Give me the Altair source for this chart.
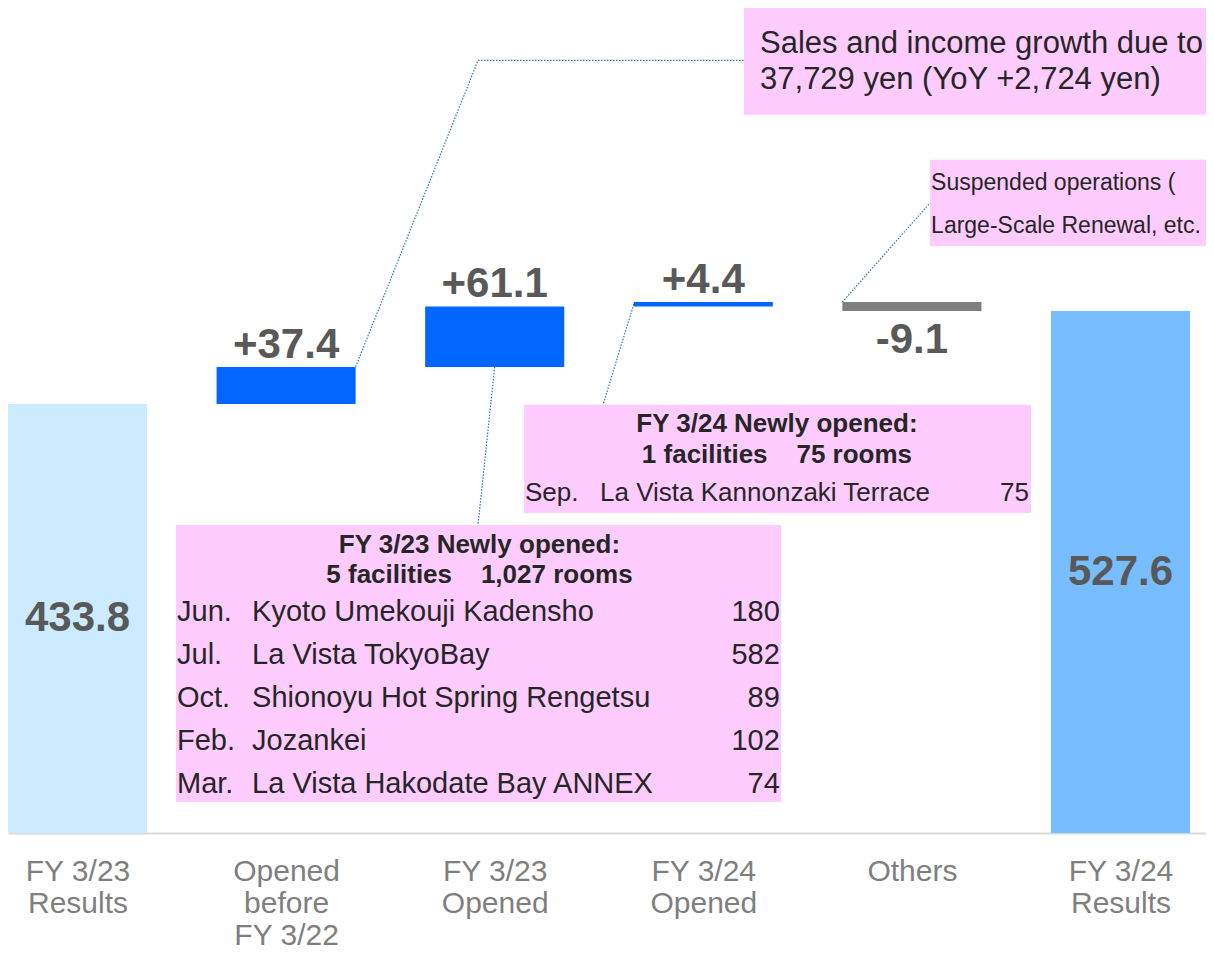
import json
import altair as alt
import pandas as pd

FONT = "Liberation Sans"

# ---------------- data ----------------
categories = ["FY 3/23|Results", "Opened|before|FY 3/22", "FY 3/23|Opened",
              "FY 3/24|Opened", "Others", "FY 3/24|Results"]
values = [433.8, 37.4, 61.1, 4.4, -9.1, 527.6]

box_a_lines = ["Sales and income growth due to", "37,729 yen (YoY +2,724 yen)"]
box_d_lines = ["Suspended operations (", "Large-Scale Renewal, etc."]

box_b_head = ["FY 3/23 Newly opened:", "5 facilities\u00a0\u00a0\u00a0\u00a01,027 rooms"]
box_b_months = ["Jun.", "Jul.", "Oct.", "Feb.", "Mar."]
box_b_names = ["Kyoto Umekouji Kadensho", "La Vista TokyoBay",
               "Shionoyu Hot Spring Rengetsu", "Jozankei", "La Vista Hakodate Bay ANNEX"]
box_b_rooms = [180, 582, 89, 102, 74]

box_c_head = ["FY 3/24 Newly opened:", "1 facilities\u00a0\u00a0\u00a0\u00a075 rooms"]
box_c_months = ["Sep."]
box_c_names = ["La Vista Kannonzaki Terrace"]
box_c_rooms = [75]

# ---------------- waterfall table ----------------
HALF = 1 / 3  # half bar width in category units
rows = []
running = 0.0
n = len(values)
for k, (cat, val) in enumerate(zip(categories, values)):
    if k == 0 or k == n - 1:
        start, end = 0.0, val
        kind = "prev" if k == 0 else "cur"
        label = f"{val:.1f}"
        pos = "mid"
        if k == 0:
            running = val
    else:
        start, end = running, running + val
        running = end
        kind = "up" if val > 0 else "down"
        label = f"{val:+.1f}"
        pos = "top" if val > 0 else "bottom"
    rows.append(dict(idx=k, lo=k - HALF, hi=k + HALF, start=start, end=end,
                     kind=kind, label=label, pos=pos,
                     mid=(start + end) / 2, top=max(start, end), bottom=min(start, end)))
bars = pd.DataFrame(rows)

# ---------------- scales / axes ----------------
xscale = alt.Scale(domain=[-0.3332, 5.4099], nice=False, zero=False)
yscale = alt.Scale(domain=[0, 834], nice=False, zero=False)
label_expr = "split(" + json.dumps(categories) + "[datum.value], '|')"
xaxis = alt.Axis(values=list(range(n)), labelExpr=label_expr, ticks=False, tickSize=0,
                 grid=False, domainColor="#D9D9D9", domainWidth=2,
                 labelFontSize=30, labelFont=FONT, labelColor="#7F7F7F",
                 labelLineHeight=32, labelPadding=23, labelOverlap=False,
                 labelFlush=False, title="")


def X(field):
    return alt.X(field, type="quantitative", scale=xscale, axis=xaxis, title="")


def Y(field):
    return alt.Y(field, type="quantitative", scale=yscale, axis=None, title="")


# ---------------- annotation boxes ----------------
boxes = pd.DataFrame([
    dict(x1=3.195, x2=5.9, y1=726.0, y2=842.0),   # A
    dict(x1=4.087, x2=5.9, y1=593.5, y2=680.5),   # D
    dict(x1=2.140, x2=4.571, y1=323.6, y2=432.8),  # C
    dict(x1=0.472, x2=3.373, y1=31.3, y2=311.4),   # B
])
box_layer = alt.Chart(boxes).mark_rect(color="#FFCCFF").encode(
    x=X("x1"), x2="x2", y=Y("y1"), y2="y2")

# ---------------- connectors ----------------
segs = pd.DataFrame([
    dict(x1=1 + HALF, y1=values[0] + values[1], x2=1.920, y2=781.0),
    dict(x1=1.920, y1=781.0, x2=3.195, y2=781.0),
    dict(x1=2.0, y1=values[0] + values[1], x2=1.920, y2=311.4),
    dict(x1=3 - HALF, y1=534.5, x2=2.519, y2=432.8),
    dict(x1=4 - HALF, y1=536.7, x2=4.087, y2=637.0),
])
seg_layer = alt.Chart(segs).mark_rule(color="#2E75B6", strokeWidth=1.2,
                                      strokeDash=[1.5, 1.5]).encode(
    x=X("x1"), x2="x2", y=Y("y1"), y2="y2")

# ---------------- bars ----------------
bar_layer = alt.Chart(bars).mark_bar().encode(
    x=X("lo"), x2="hi", y=Y("start"), y2="end",
    color=alt.Color("kind:N", legend=None,
                    scale=alt.Scale(domain=["prev", "up", "down", "cur"],
                                    range=["#CCEBFF", "#0066FF", "#7F7F7F", "#77BDFF"])))

lab_common = dict(font=FONT, fontWeight="bold", fontSize=42, color="#595959", align="center")
lab_mid = alt.Chart(bars).transform_filter("datum.pos == 'mid'").mark_text(
    baseline="middle", **lab_common).encode(x=X("idx"), y=Y("mid"), text="label:N")
lab_top = alt.Chart(bars).transform_filter("datum.pos == 'top'").mark_text(
    baseline="alphabetic", dy=-9, **lab_common).encode(x=X("idx"), y=Y("top"), text="label:N")
lab_bot = alt.Chart(bars).transform_filter("datum.pos == 'bottom'").mark_text(
    baseline="alphabetic", dy=42, **lab_common).encode(x=X("idx"), y=Y("bottom"), text="label:N")


# ---------------- annotation texts ----------------
def text_layer(xs, ys, texts, **kw):
    df = pd.DataFrame(dict(x=xs, y=ys, t=[str(t) for t in texts]))
    props = dict(font=FONT, baseline="middle", color="#262626")
    props.update(kw)
    return alt.Chart(df).mark_text(**props).encode(x=X("x"), y=Y("y"), text="t:N")


ROW_B = 43.4
b_rows_y = [223.5 - k * ROW_B for k in range(len(box_b_months))]

texts = [
    text_layer([3.272] * 2, [797.8, 761.4], box_a_lines, fontSize=31, align="left"),
    text_layer([4.092] * 2, [657.2, 613.8], box_d_lines, fontSize=23, align="left"),
    text_layer([1.927] * 2, [291.2, 260.9], box_b_head, fontSize=26, fontWeight="bold", align="center"),
    text_layer([3.353] * 2, [413.6, 382.2], box_c_head, fontSize=26, fontWeight="bold", align="center"),
    text_layer([0.477] * 5, b_rows_y, box_b_months, fontSize=29, align="left"),
    text_layer([0.837] * 5, b_rows_y, box_b_names, fontSize=29, align="left"),
    text_layer([3.367] * 5, b_rows_y, box_b_rooms, fontSize=29, align="right"),
    text_layer([2.145], [343.8], box_c_months, fontSize=26, align="left"),
    text_layer([2.505], [343.8], box_c_names, fontSize=26, align="left"),
    text_layer([4.561], [343.8], box_c_rooms, fontSize=26, align="right"),
]

chart = alt.layer(box_layer, seg_layer, bar_layer, lab_mid, lab_top, lab_bot, *texts).properties(
    width=1198, height=825,
    autosize=alt.AutoSizeParams(type="none"),
    padding={"left": 0, "top": 0, "right": 0, "bottom": 118},
).configure(font=FONT, background="white").configure_view(strokeWidth=0, stroke="transparent")

chart.save("out.html", embed_options={"renderer": "svg", "actions": False})
